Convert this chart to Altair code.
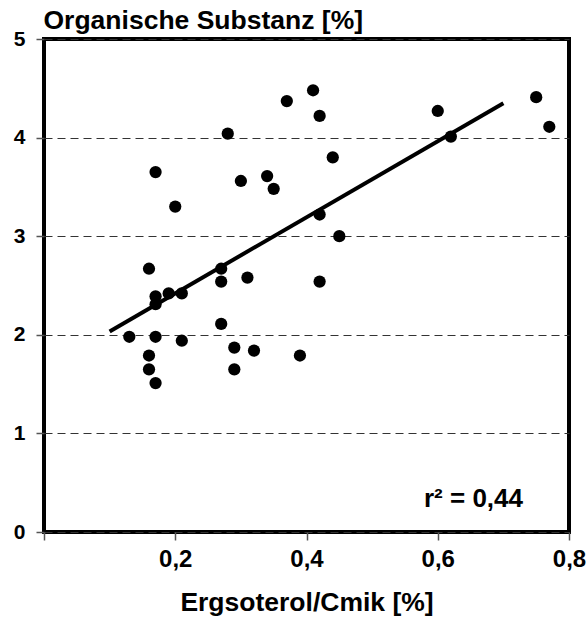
import altair as alt
import pandas as pd

ergosterol = [0.13, 0.16, 0.16, 0.16, 0.17, 0.17, 0.17, 0.17, 0.17, 0.19, 0.20, 0.21,
              0.21, 0.27, 0.27, 0.27, 0.28, 0.29, 0.29, 0.30, 0.31, 0.32, 0.34, 0.35,
              0.37, 0.39, 0.41, 0.42, 0.42, 0.42, 0.44, 0.45, 0.60, 0.62, 0.75, 0.77]
organik = [1.98, 2.67, 1.79, 1.65, 3.65, 2.39, 2.31, 1.98, 1.51, 2.42, 3.30, 2.42,
           1.94, 2.67, 2.54, 2.11, 4.04, 1.87, 1.65, 3.56, 2.58, 1.84, 3.61, 3.48,
           4.37, 1.79, 4.48, 4.22, 3.22, 2.54, 3.80, 3.00, 4.27, 4.01, 4.41, 4.11]
y_ticks = [0, 1, 2, 3, 4, 5]
x_ticks = [0, 0.2, 0.4, 0.6, 0.8]
r2_label = ["r² = 0,44"]

df = pd.DataFrame({"x": ergosterol, "y": organik})
FONT = "Liberation Sans"

xscale = alt.Scale(domain=[0, 0.8], nice=False, zero=False)
yscale = alt.Scale(domain=[0, 5], nice=False)

xaxis = alt.Axis(
    values=x_ticks, title="Ergsoterol/Cmik [%]", grid=False, domain=False,
    labelExpr="datum.value == 0 ? '' : replace(format(datum.value, '.1f'), '.', ',')",
    labelFont=FONT, labelFontSize=24, labelFontWeight="bold", labelColor="black",
    labelPadding=7, ticks=True, tickSize=8, tickColor="#555", tickWidth=1.5,
    titleFont=FONT, titleFontSize=26.5, titleFontWeight="bold", titleColor="black",
    titlePadding=18, labelFlush=False, labelOverlap=False,
)
yaxis = alt.Axis(
    values=y_ticks, title="Organische Substanz [%]", format="d", domain=False,
    grid=True, gridColor="#333", gridDash=[8, 5], gridWidth=1,
    labelFont=FONT, labelFontSize=21, labelFontWeight="bold", labelColor="black",
    labelPadding=11, tickSize=8, tickColor="#555", tickWidth=1.5,
    titleFont=FONT, titleFontSize=26.5, titleFontWeight="bold", titleColor="black",
    titleAngle=0, titleAlign="left", titleBaseline="alphabetic", titleX=-1, titleY=-11,
)

points = alt.Chart(df).mark_circle(size=150, color="black", opacity=1).encode(
    x=alt.X("x:Q", scale=xscale, axis=xaxis),
    y=alt.Y("y:Q", scale=yscale, axis=yaxis),
)

line = alt.Chart(df).transform_regression(
    "x", "y", extent=[0.1, 0.7]
).mark_line(color="black", strokeWidth=4).encode(
    x=alt.X("x:Q", scale=xscale),
    y=alt.Y("y:Q", scale=yscale),
)

r2 = alt.Chart(pd.DataFrame({"t": r2_label})).mark_text(
    font=FONT, fontSize=26, fontWeight="bold", align="right", baseline="alphabetic",
    color="black",
).encode(text="t:N", x=alt.value(479), y=alt.value(468))

chart = alt.layer(line, points, r2).properties(
    width=525, height=493,
    padding={"left": 44, "top": 39, "right": 18, "bottom": 87},
    autosize=alt.AutoSizeParams(type="none"),
    background="white",
).configure_view(stroke="black", strokeWidth=4)

chart.save("out.html", embed_options={"renderer": "svg", "actions": False})
